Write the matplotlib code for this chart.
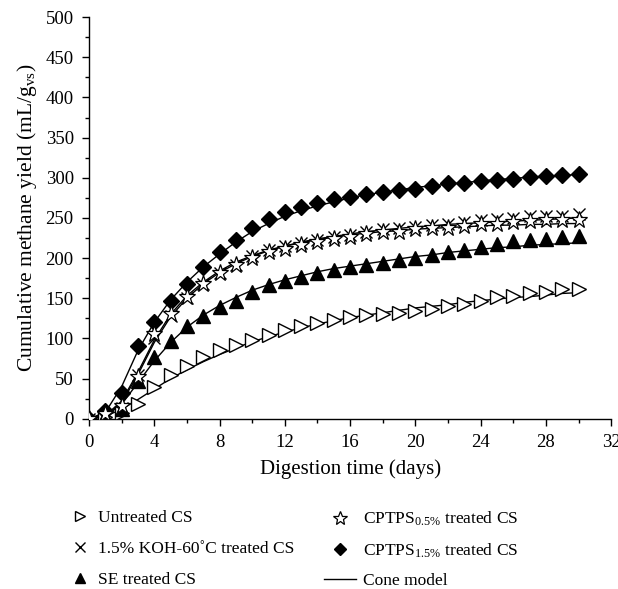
import matplotlib
matplotlib.use("Agg")
import matplotlib.pyplot as plt
from matplotlib.lines import Line2D
from matplotlib.ticker import MultipleLocator

plt.rcParams['font.family'] = ['Liberation Serif', 'DejaVu Serif']
plt.rcParams['mathtext.fontset'] = 'custom'
plt.rcParams['mathtext.rm'] = 'Liberation Serif'
plt.rcParams['mathtext.it'] = 'Liberation Serif:italic'

days = list(range(0, 31))

untreated = [0, 2, 7, 19, 39, 54, 66, 77, 86, 92, 98, 104, 110, 115, 119, 123,
             127, 129, 131, 132, 134, 137, 140, 143, 146, 151, 153, 156, 158, 161, 162]
koh = [0, 5, 14, 55, 100, 128, 150, 168, 181, 192, 203, 210, 215, 219, 223, 226,
       229, 233, 236, 237, 239, 241, 243, 245, 247, 249, 250, 252, 253, 253, 255]
se = [0, 4, 12, 47, 77, 97, 115, 128, 139, 147, 158, 166, 171, 177, 182, 185,
      189, 192, 194, 198, 200, 204, 207, 210, 214, 217, 221, 223, 224, 226, 228]
cptps05 = [0, 6, 16, 52, 105, 131, 152, 168, 181, 191, 200, 207, 211, 216, 220, 224,
           226, 230, 232, 233, 236, 237, 238, 240, 242, 243, 245, 246, 247, 247, 248]
cptps15 = [0, 10, 32, 90, 121, 146, 168, 189, 208, 223, 237, 249, 257, 263, 268, 273,
           276, 280, 282, 285, 286, 290, 293, 293, 296, 297, 299, 301, 302, 304, 305]

# Cone model curves
cone_untreated = [0, 3, 12, 24, 37, 50, 61, 71, 80, 88, 96, 102, 108, 113, 118, 122,
                  126, 129, 132, 135, 138, 140, 142, 145, 147, 149, 151, 152, 154, 156, 157]
cone_koh = [0, 4, 20, 55, 95, 127, 150, 168, 182, 193, 202, 209, 215, 220, 224, 227,
            230, 233, 235, 237, 239, 240, 242, 243, 244, 245, 246, 247, 248, 249, 250]
cone_se = [0, 3, 18, 45, 72, 95, 114, 129, 141, 151, 160, 167, 173, 178, 183, 187,
           190, 193, 196, 199, 202, 204, 207, 209, 211, 213, 214, 216, 217, 218, 219]
cone_cptps05 = [0, 4, 22, 58, 98, 130, 153, 170, 184, 195, 203, 210, 215, 219, 223, 226,
                229, 231, 233, 234, 236, 237, 238, 239, 240, 241, 241, 242, 242, 243, 243]
cone_cptps15 = [0, 8, 40, 85, 120, 148, 170, 189, 205, 220, 233, 243, 252, 259, 265, 270,
                275, 279, 282, 285, 288, 290, 292, 294, 296, 298, 299, 301, 302, 303, 304]

labels = ['Untreated CS', '1.5% KOH-60˚C treated CS', 'SE treated CS',
          r'CPTPS$_{0.5\%}$ treated CS', r'CPTPS$_{1.5\%}$ treated CS', 'Cone model']

fig = plt.figure(figsize=(6.18, 5.89), dpi=100)
ax = fig.add_axes([0.144, 0.289, 0.845, 0.682])

lw = 1.0
for c in [cone_untreated, cone_se, cone_koh, cone_cptps05, cone_cptps15]:
    ax.plot(days, c, color='black', lw=lw, zorder=2)

ax.plot(days, untreated, ls='none', marker='>', ms=10, mfc='white', mec='black', mew=1.0, zorder=3)
ax.plot(days, se, ls='none', marker='^', ms=10, mfc='black', mec='black', zorder=3)
ax.plot(days, koh, ls='none', marker='x', ms=9, mec='black', mew=1.0, zorder=3)
ax.plot(days, cptps05, ls='none', marker='*', ms=12.5, mfc='white', mec='black', mew=0.9, zorder=4)
ax.plot(days, cptps15, ls='none', marker='D', ms=8.5, mfc='black', mec='black', zorder=3)

ax.set_xlim(0, 32)
ax.set_ylim(0, 500)
ax.xaxis.set_major_locator(MultipleLocator(4))
ax.xaxis.set_minor_locator(MultipleLocator(2))
ax.yaxis.set_major_locator(MultipleLocator(50))
ax.yaxis.set_minor_locator(MultipleLocator(25))
for s in ['top', 'right']:
    ax.spines[s].set_visible(False)
for s in ['left', 'bottom']:
    ax.spines[s].set_linewidth(1.0)
ax.tick_params(which='major', direction='out', length=5, width=1.0, labelsize=13.5, pad=6)
ax.tick_params(which='minor', direction='out', length=3, width=1.0)
ax.set_xlabel('Digestion time (days)', fontsize=15, labelpad=6)
ax.set_ylabel(r'Cumulative methane yield (mL/g$_{\mathrm{vs}}$)', fontsize=15.5, labelpad=5)

h_unt = Line2D([], [], ls='none', marker='>', ms=7, mfc='white', mec='black')
h_koh = Line2D([], [], ls='none', marker='x', ms=7, mec='black')
h_se = Line2D([], [], ls='none', marker='^', ms=7, mfc='black', mec='black')
h_c05 = Line2D([], [], ls='none', marker='*', ms=10, mfc='white', mec='black', mew=0.9)
h_c15 = Line2D([], [], ls='none', marker='D', ms=6, mfc='black', mec='black')
h_cone = Line2D([], [], color='black', lw=1.0)

leg1 = fig.legend([h_unt, h_koh, h_se], labels[:3], loc='upper left',
                  bbox_to_anchor=(0.116, 0.134), frameon=False, fontsize=12.5,
                  handlelength=1.0, handletextpad=0.5, labelspacing=0.85,
                  borderpad=0, borderaxespad=0)
leg2 = fig.legend([h_c05, h_c15, h_cone], labels[3:], loc='upper left',
                  bbox_to_anchor=(0.525, 0.134), frameon=False, fontsize=12.5,
                  handlelength=1.8, handletextpad=0.4, labelspacing=0.74,
                  borderpad=0, borderaxespad=0)

fig.savefig('out.png', dpi=100)
